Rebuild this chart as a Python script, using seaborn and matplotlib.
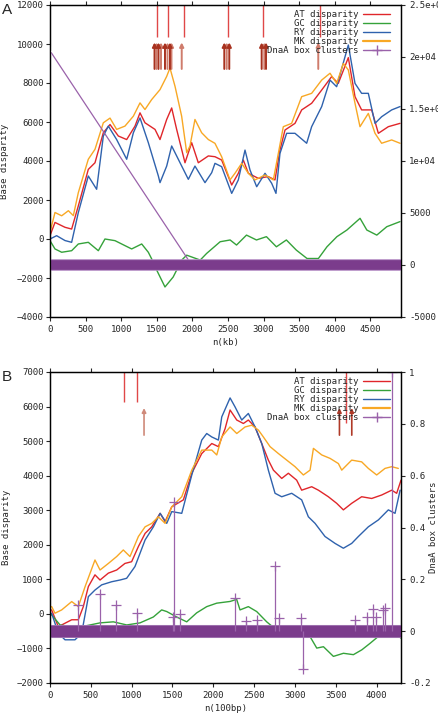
import matplotlib
matplotlib.use("Agg")
import matplotlib.pyplot as plt
from matplotlib.lines import Line2D
import seaborn as sns

# ---------------- panel A (x in kb) ----------------
a_at_x = [0, 70, 211, 304, 398, 538, 632, 749, 843, 960, 1077, 1194, 1264, 1334, 1475, 1545, 1639, 1709,
          1779, 1896, 1990, 2083, 2224, 2317, 2411, 2552, 2645, 2715, 2786, 2926, 3066, 3160, 3230, 3301,
          3441, 3535, 3675, 3816, 3956, 4049, 4190, 4284, 4377, 4518, 4612, 4752, 4916]
a_at_y = [170, 850, 600, 510, 1700, 3570, 3910, 5450, 5870, 5280, 5100, 5790, 6470, 5960, 5620, 5100, 6130, 6720,
          5620, 3910, 4940, 3910, 4260, 4220, 4050, 2770, 3370, 4050, 3370, 3110, 3200, 3030, 4560, 5590,
          5930, 6620, 6960, 7640, 8330, 7980, 9300, 7300, 6620, 6620, 5420, 5760, 5930]

a_gc_x = [0, 70, 164, 304, 398, 538, 679, 772, 913, 1053, 1147, 1288, 1381, 1428, 1498, 1615, 1730, 1850,
          1920, 2110, 2200, 2390, 2530, 2620, 2760, 2900, 3040, 3180, 3320, 3460, 3610, 3770, 3890, 4030,
          4170, 4355, 4450, 4590, 4730, 4915]
a_gc_y = [-85, -510, -680, -600, -255, -170, -600, 0, -85, -340, -510, -255, -680, -1020, -1590, -2460, -1950, -1080,
          -830, -1080, -740, -140, -50, -310, 200, -50, 120, -400, -50, -570, -1000, -1000, -400, 120,
          460, 1060, 460, 200, 630, 890]

a_ry_x = [0, 93, 211, 304, 398, 538, 655, 749, 819, 936, 1077, 1171, 1264, 1381, 1522, 1545, 1639, 1709,
          1802, 1943, 2036, 2177, 2271, 2317, 2411, 2552, 2645, 2739, 2809, 2903, 3020, 3113, 3174, 3230,
          3324, 3441, 3605, 3675, 3816, 3933, 4026, 4190, 4284, 4377, 4471, 4565, 4658, 4799, 4916]
a_ry_y = [0, 170, -80, -170, 1360, 3230, 2550, 5280, 5790, 5100, 4090, 5450, 6210, 4940, 3230, 2890, 3740, 4770,
          4090, 3060, 3740, 2890, 3400, 3880, 3710, 2340, 3030, 4560, 3540, 2680, 3370, 2860, 2340, 4390,
          5420, 5420, 4910, 5760, 6790, 8150, 7810, 9950, 7980, 7470, 7470, 5930, 6270, 6620, 6790]

a_mk_x = [0, 70, 164, 258, 328, 398, 538, 632, 749, 843, 936, 1053, 1171, 1264, 1334, 1428, 1545, 1639,
          1685, 1756, 1849, 1920, 1966, 2036, 2130, 2224, 2317, 2411, 2528, 2598, 2692, 2786, 2879, 3020,
          3137, 3207, 3277, 3394, 3535, 3675, 3816, 3933, 4026, 4120, 4190, 4284, 4354, 4471, 4565, 4658,
          4799, 4916]
a_mk_y = [340, 1360, 1190, 1450, 1200, 2380, 4090, 4600, 5960, 6200, 5620, 5790, 6300, 6980, 6640, 7150, 7660, 8340,
          8770, 7830, 6300, 4430, 4770, 6130, 5450, 5100, 4906, 4220, 3030, 3370, 3880, 3370, 3030, 3280,
          3030, 4390, 5760, 5930, 7300, 7470, 8150, 8500, 7980, 9000, 8670, 6960, 5760, 6440, 5420, 4910,
          5080, 4910]

a_dnaa_x = [0, 1990]
a_dnaa_y = [20600, 0]
a_band_x = [0, 4930]
a_band_y = [0, 0]

a_marks = [1503, 1657, 1882, 2500, 2992, 3792]
a_arrows_dark = [1468, 1524, 1615, 1685, 2448, 2518, 2973, 3034]
a_arrows_light = [1496, 1559, 1650, 1706, 1850, 2482, 3010, 3768]

# ---------------- panel B (x in 100 bp) ----------------
b_at_x = [20, 102, 266, 347, 408, 470, 551, 613, 715, 817, 918, 1000, 1083, 1165, 1247, 1349, 1410, 1492,
          1634, 1737, 1859, 1982, 2063, 2145, 2206, 2288, 2369, 2430, 2512, 2594, 2675, 2737, 2839, 2920,
          3022, 3083, 3206, 3288, 3410, 3512, 3594, 3696, 3818, 3941, 4063, 4186, 4247, 4300]
b_at_y = [115, -370, -170, -170, 210, 790, 1130, 980, 1180, 1270, 1460, 1510, 1950, 2330, 2520, 2910, 2670, 3100,
          3300, 4070, 4640, 4930, 4840, 5360, 5900, 5610, 5510, 5610, 5410, 4930, 4450, 4160, 3920, 4070,
          3870, 3580, 3680, 3580, 3390, 3200, 3010, 3200, 3390, 3340, 3440, 3580, 3490, 3870]

b_gc_x = [0, 123, 327, 613, 776, 940, 1103, 1266, 1368, 1430, 1552, 1675, 1797, 1920, 2042, 2206, 2287,
          2328, 2430, 2532, 2655, 2777, 2940, 3185, 3268, 3350, 3472, 3595, 3717, 3820, 3922, 4044, 4146,
          4248, 4300]
b_gc_y = [30, -320, -400, -260, -230, -320, -260, -90, 115, 68, -90, -230, 30, 210, 310, 360, 420,
          115, 210, 68, -230, -470, -570, -655, -990, -950, -1230, -1140, -1180, -1040, -850, -610, -655,
          -610, -700]

b_ry_x = [20, 102, 184, 306, 388, 470, 551, 633, 755, 857, 939, 1041, 1165, 1267, 1349, 1430, 1492, 1614,
          1737, 1859, 1920, 1982, 2063, 2104, 2206, 2267, 2349, 2430, 2512, 2594, 2675, 2757, 2839, 2961,
          3083, 3165, 3247, 3369, 3492, 3594, 3696, 3778, 3900, 4023, 4145, 4227, 4289]
b_ry_y = [20, -560, -750, -750, -560, 500, 690, 840, 930, 980, 1030, 1370, 2140, 2520, 2910, 2620, 2960, 2910,
          4020, 5030, 5220, 5120, 5030, 5700, 6250, 5990, 5610, 5800, 5410, 4930, 4160, 3490, 3390, 3490,
          3300, 2810, 2620, 2240, 2040, 1900, 2040, 2240, 2520, 2720, 3010, 2910, 3580]

b_mk_x = [20, 61, 143, 266, 347, 430, 551, 613, 715, 817, 898, 980, 1083, 1165, 1247, 1328, 1410, 1492,
          1614, 1737, 1859, 1982, 2043, 2104, 2206, 2288, 2390, 2471, 2553, 2614, 2696, 2798, 2900, 3002,
          3104, 3186, 3227, 3329, 3431, 3533, 3574, 3696, 3818, 3900, 4002, 4104, 4186, 4267]
b_mk_y = [212, 20, 115, 356, 212, 790, 1560, 1270, 1460, 1660, 1850, 1660, 2240, 2520, 2620, 2810, 2620, 3100,
          3390, 4160, 4740, 4740, 4600, 5120, 5410, 5220, 5410, 5460, 5320, 5120, 4840, 4640, 4450, 4260,
          4020, 4160, 4790, 4600, 4500, 4350, 4160, 4450, 4400, 4210, 4020, 4210, 4260, 4210]

b_dnaa_x = [347, 613, 809, 1062, 1503, 1524, 1593, 2267, 2402, 2530, 2757, 2800, 3080, 3105, 3738, 3881,
            3962, 3990, 4085, 4100, 4187]
b_dnaa_y = [0.10, 0.143, 0.10, 0.07, 0.055, 0.50, 0.065, 0.127, 0.04, 0.045, 0.25, 0.05, 0.05, -0.145, 0.045,
            0.055, 0.085, 0.055, 0.08, 0.09, 1.0]
b_band_x = [0, 4300]
b_band_y = [0, 0]

b_marks = [910, 1070]
b_marks_long = [3624]
b_arrows_dark = [3546, 3697]
b_arrows_light = [1152]

# colours
c_at = "#e0262a"
c_gc = "#35a23a"
c_ry = "#2f62ad"
c_mk = "#f8a825"
c_dnaa = "#7b3c8c"
c_dnaa_thin = "#9a62aa"

sns.set_style("ticks")
plt.rcParams['font.family'] = ['DejaVu Sans Mono']
plt.rcParams['font.size'] = 6.5

fig = plt.figure(figsize=(4.38, 7.13), dpi=100)


def style_axes(ax, axr):
    for a in (ax, axr):
        for s in a.spines.values():
            s.set_linewidth(0.9)
            s.set_color("black")
            s.set_visible(True)
    ax.tick_params(axis='both', direction='out', length=3, width=0.8, pad=1.5, labelsize=6.5, top=True)
    ax.tick_params(axis='x', pad=3)
    axr.tick_params(axis='y', direction='out', length=3, width=0.8, pad=3, labelsize=6.5)


def draw_lines(ax, series):
    for xs, ys, c in series:
        sns.lineplot(x=xs, y=ys, ax=ax, color=c, lw=1.0, sort=False, estimator=None, legend=False)


def draw_legend(axr, anchor):
    handles = [Line2D([], [], color=c_at, lw=1.0),
               Line2D([], [], color=c_gc, lw=1.0),
               Line2D([], [], color=c_ry, lw=1.0),
               Line2D([], [], color=c_mk, lw=1.6),
               Line2D([], [], color=c_dnaa_thin, lw=1.0, marker='+', markersize=7)]
    labels = ["AT disparity", "GC disparity", "RY disparity", "MK disparity", "DnaA box clusters"]
    axr.legend(handles, labels, loc='upper right', bbox_to_anchor=anchor, frameon=False, markerfirst=False,
               handlelength=3.0, handletextpad=0.5, labelspacing=0.0, borderaxespad=0, borderpad=0,
               fontsize=6.5)


# ---------------- A ----------------
axA = fig.add_axes([50 / 438, 1 - 317 / 713, 351 / 438, 312 / 713])
axAr = axA.twinx()
draw_lines(axA, [(a_at_x, a_at_y, c_at), (a_gc_x, a_gc_y, c_gc),
                 (a_ry_x, a_ry_y, c_ry), (a_mk_x, a_mk_y, c_mk)])
axA.vlines(a_marks, 0.897, 1.0, color="#e04848", lw=1.0, transform=axA.get_xaxis_transform())
for xs, col in ((a_arrows_light, "#cf7c6c"), (a_arrows_dark, "#a8321f")):
    for x in xs:
        axA.annotate('', xy=(x, 0.88), xytext=(x, 0.795), xycoords=('data', 'axes fraction'),
                     textcoords=('data', 'axes fraction'),
                     arrowprops=dict(arrowstyle='-|>', color=col, lw=1.4, mutation_scale=6, shrinkA=0, shrinkB=0))
sns.lineplot(x=a_dnaa_x, y=a_dnaa_y, ax=axAr, color=c_dnaa_thin, lw=0.9, marker='+', markersize=7,
             markeredgewidth=0.9, estimator=None, legend=False)
sns.lineplot(x=a_band_x, y=a_band_y, ax=axAr, color="#b48cc4", lw=8.4, estimator=None, legend=False)
sns.lineplot(x=a_band_x, y=a_band_y, ax=axAr, color=c_dnaa, lw=7.0, estimator=None, legend=False)

axA.set_xlim(0, 4930)
axA.set_ylim(-4000, 12000)
axA.set_xticks(range(0, 4501, 500))
axA.set_yticks(range(-4000, 12001, 2000))
axAr.set_ylim(-5000, 25000)
axAr.set_yticks([-5000, 0, 5000, 10000, 15000, 20000, 25000])
axAr.set_yticklabels(['-5000', '0', '5000', '1e+04', '1.5e+04', '2e+04', '2.5e+04'])
axA.set_xlabel("n(kb)", fontsize=6.5)
axA.set_ylabel("Base disparity", fontsize=6.5)
axA.xaxis.set_label_coords(0.5, -0.068)
axA.yaxis.set_label_coords(-0.118, 0.5)
style_axes(axA, axAr)
draw_legend(axAr, (0.969, 0.983))

# ---------------- B ----------------
axB = fig.add_axes([50 / 438, 1 - 683 / 713, 351 / 438, 311 / 713])
axBr = axB.twinx()
draw_lines(axB, [(b_at_x, b_at_y, c_at), (b_gc_x, b_gc_y, c_gc),
                 (b_ry_x, b_ry_y, c_ry), (b_mk_x, b_mk_y, c_mk)])
axB.vlines(b_marks, 0.9035, 1.0, color="#e04848", lw=1.0, transform=axB.get_xaxis_transform())
axB.vlines(b_marks_long, 0.836, 1.0, color="#e04848", lw=1.0, transform=axB.get_xaxis_transform())
for xs, col in ((b_arrows_light, "#cf8a7a"), (b_arrows_dark, "#b03a28")):
    for x in xs:
        axB.annotate('', xy=(x, 0.884), xytext=(x, 0.797), xycoords=('data', 'axes fraction'),
                     textcoords=('data', 'axes fraction'),
                     arrowprops=dict(arrowstyle='-|>', color=col, lw=1.2, mutation_scale=6, shrinkA=0, shrinkB=0))
sns.lineplot(x=b_band_x, y=b_band_y, ax=axBr, color="#a57bb6", lw=9.4, estimator=None, legend=False)
sns.lineplot(x=b_band_x, y=b_band_y, ax=axBr, color=c_dnaa, lw=8.2, estimator=None, legend=False)
axBr.vlines(b_dnaa_x, 0, b_dnaa_y, color=c_dnaa_thin, lw=0.9)
sns.scatterplot(x=b_dnaa_x, y=b_dnaa_y, ax=axBr, marker='+', s=45, color=c_dnaa_thin, linewidth=0.9, legend=False)

axB.set_xlim(0, 4300)
axB.set_ylim(-2000, 7000)
axB.set_xticks(range(0, 4001, 500))
axB.set_yticks(range(-2000, 7001, 1000))
axBr.set_ylim(-0.2, 1.0)
axBr.set_yticks([-0.2, 0, 0.2, 0.4, 0.6, 0.8, 1.0])
axBr.set_yticklabels(['-0.2', '0', '0.2', '0.4', '0.6', '0.8', '1'])
axB.set_xlabel("n(100bp)", fontsize=6.5)
axB.set_ylabel("Base disparity", fontsize=6.5)
axBr.set_ylabel("DnaA box clusters", fontsize=6.5)
axB.xaxis.set_label_coords(0.5, -0.066)
axB.yaxis.set_label_coords(-0.112, 0.5)
axBr.yaxis.set_label_coords(1.08, 0.5)
style_axes(axB, axBr)
draw_legend(axBr, (0.969, 0.985))

fig.text(0.004, 1 - 3 / 713, "A", fontsize=11, family="Liberation Sans", va='top', ha='left')
fig.text(0.004, 1 - 370 / 713, "B", fontsize=11, family="Liberation Sans", va='top', ha='left')

fig.savefig("out.png", dpi=100)
